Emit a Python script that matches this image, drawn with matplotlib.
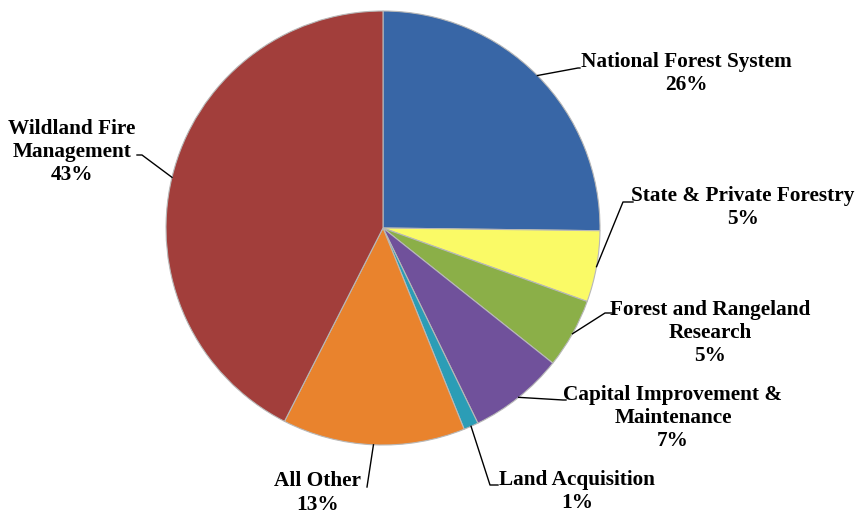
import numpy as np
import matplotlib.pyplot as plt

# budget shares, clockwise from 12 o'clock
categories = ["National Forest System", "State & Private Forestry",
              "Forest and Rangeland\nResearch", "Capital Improvement &\nMaintenance",
              "Land Acquisition", "All Other", "Wildland Fire\nManagement"]
shares = [25.2, 5.3, 5.2, 7.1, 1.1, 13.6, 42.5]
pct_labels = ["26%", "5%", "5%", "7%", "1%", "13%", "43%"]
colors = ["#3866A6", "#FAFA66", "#8BAF48", "#70519B", "#2B9DB6", "#E9832D", "#A23E3B"]

W, H = 856, 514
fig = plt.figure(figsize=(W / 100, H / 100), dpi=100)
ax = fig.add_axes([0, 0, 1, 1])

cx, cy, r = 383, H - 228, 217

wedges, _ = ax.pie(shares, colors=colors, startangle=90, counterclock=False,
                   center=(cx, cy), radius=r,
                   wedgeprops=dict(edgecolor="#b8b8b8", linewidth=0.8))
ax.set_xlim(0, W)
ax.set_ylim(0, H)
ax.set_aspect("equal")
ax.axis("off")

# leader elbow, leader end, text centre (image pixels, y down)
elbows = [(578, 68), (623, 202), (605, 313), (563, 400), (490, 485), (367, 487), (142, 155)]
ends = [(580, 68), (633, 202), (612, 313), (566, 400), (498, 485), (367, 487), (137, 155)]
centres = [(686, 74), (743, 208), (710, 333), (673, 418), (577, 491), (318, 493), (72, 152)]

for w, name, pct, el, en, tc in zip(wedges, categories, pct_labels, elbows, ends, centres):
    ang = np.deg2rad((w.theta1 + w.theta2) / 2)
    sx = cx + r * np.cos(ang)
    sy = cy + r * np.sin(ang)
    ax.plot([sx, el[0], en[0]], [sy, H - el[1], H - en[1]], color="black", lw=1.0)
    ax.text(tc[0], H - tc[1], name + "\n" + pct, ha="center", va="center",
            fontsize=15.3, fontweight="bold", family="Liberation Serif",
            linespacing=1.2)

fig.savefig("out.png", dpi=100)
